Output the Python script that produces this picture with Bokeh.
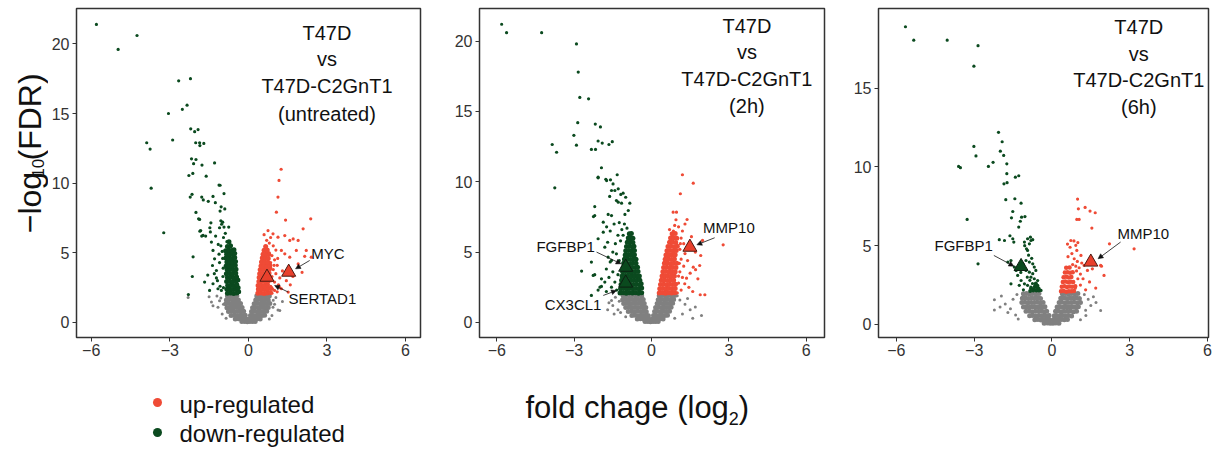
from bokeh.plotting import figure
from bokeh.layouts import row, column
from bokeh.models import Range1d, FixedTicker, Arrow, NormalHead
from bokeh.core.properties import value
from bokeh.embed import file_html
from bokeh.resources import INLINE

# ---------------- data ----------------
X_TICKS = [-6, -3, 0, 3, 6]
X_TICK_LABELS = ["\u22126", "\u22123", "0", "3", "6"]
Y_TICKS_A = [0, 5, 10, 15, 20]
Y_TICKS_B = [0, 5, 10, 15]

TITLES = [
    ["T47D", "vs", "T47D-C2GnT1", "(untreated)"],
    ["T47D", "vs", "T47D-C2GnT1", "(2h)"],
    ["T47D", "vs", "T47D-C2GnT1", "(6h)"],
]
LEGEND_LABELS = ["up-regulated", "down-regulated"]

# ---- panel 1 (untreated) ----
p1_down = [(-5.80, 21.4), (-4.25, 20.6), (-4.97, 19.6), (-2.66, 17.35), (-2.21, 17.5), (-2.34, 15.6),
           (-2.52, 15.3), (-3.05, 15.0), (-2.20, 13.9), (-1.92, 13.85), (-2.05, 13.7), (-2.89, 13.1),
           (-3.88, 12.9), (-3.75, 12.45), (-2.01, 12.9), (-1.86, 12.9), (-1.70, 12.85), (-1.85, 12.7),
           (-1.29, 11.45), (-1.77, 11.3), (-2.17, 11.75), (-2.00, 11.7), (-2.09, 11.4), (-2.12, 10.7),
           (-2.27, 10.55), (-1.61, 10.5), (-1.12, 9.86), (-1.08, 9.85), (-3.71, 9.64), (-2.15, 9.2),
           (-2.22, 9.0), (-1.78, 9.0), (-1.72, 8.8), (-1.53, 8.7), (-1.35, 9.05), (-0.93, 9.25),
           (-1.04, 8.3), (-0.90, 8.15), (-1.08, 8.0), (-1.26, 8.6), (-2.00, 7.9), (-1.86, 7.4),
           (-1.43, 7.15), (-1.05, 7.3), (-0.98, 7.2), (-1.02, 7.05), (-1.10, 6.8), (-0.93, 6.85),
           (-0.75, 6.85), (-3.23, 6.44), (-1.85, 6.55), (-1.78, 6.2), (-1.63, 6.2), (-1.45, 6.5),
           (-1.25, 6.2), (-2.11, 4.71), (-2.14, 3.3), (-2.29, 2.0), (-1.90, 7.44), (-1.82, 6.6),
           (-1.73, 6.25), (-1.47, 6.8), (-1.41, 5.77), (-1.35, 5.17), (-1.29, 4.57), (-1.37, 4.09),
           (-1.22, 3.73), (-1.67, 2.9), (-1.35, 2.78), (-1.22, 3.2), (-1.16, 2.42), (-1.03, 2.3),
           (-1.15, 5.6), (-1.12, 4.9), (-1.05, 5.5), (-1.18, 3.0), (-1.08, 2.6), (-1.10, 4.3),
           (-1.30, 3.5), (-1.55, 3.4), (-1.48, 2.3), (-0.95, 6.1), (-0.88, 6.4), (-0.82, 5.8),
           (-0.98, 4.6), (-0.96, 3.9), (-0.97, 3.3), (-0.95, 2.5), (-1.0, 5.1)]
p1_down_core = [(-0.80, 2.10), (-0.68, 2.12), (-0.56, 2.08), (-0.44, 2.11), (-0.37, 2.20),
                (-0.82, 2.38), (-0.70, 2.40), (-0.58, 2.36), (-0.46, 2.42), (-0.39, 2.50),
                (-0.79, 2.66), (-0.67, 2.68), (-0.55, 2.64), (-0.44, 2.70),
                (-0.83, 2.94), (-0.71, 2.96), (-0.59, 2.92), (-0.47, 2.98), (-0.40, 3.05),
                (-0.80, 3.22), (-0.68, 3.24), (-0.56, 3.20), (-0.45, 3.26),
                (-0.84, 3.50), (-0.72, 3.52), (-0.60, 3.48), (-0.48, 3.54),
                (-0.81, 3.78), (-0.69, 3.80), (-0.57, 3.76), (-0.47, 3.82),
                (-0.85, 4.06), (-0.73, 4.08), (-0.61, 4.04), (-0.50, 4.10),
                (-0.82, 4.34), (-0.70, 4.36), (-0.58, 4.32), (-0.49, 4.38),
                (-0.86, 4.62), (-0.74, 4.64), (-0.62, 4.60), (-0.52, 4.66),
                (-0.83, 4.90), (-0.71, 4.92), (-0.59, 4.88), (-0.52, 4.95),
                (-0.87, 5.15), (-0.75, 5.20), (-0.63, 5.16), (-0.55, 5.22),
                (-0.80, 5.45), (-0.68, 5.50), (-0.74, 5.80)]
p1_up = [(1.25, 11.0), (1.17, 10.2), (1.13, 9.0), (1.07, 7.92), (2.38, 7.44), (1.42, 7.35), (2.09, 6.72),
         (0.75, 6.6), (0.94, 6.36), (1.13, 6.12), (1.39, 6.24), (1.58, 5.89), (1.71, 6.0), (1.90, 5.89),
         (1.83, 5.17), (2.21, 5.17), (2.40, 4.69), (1.26, 5.17), (1.39, 4.93), (1.58, 4.69), (1.0, 2.3),
         (1.26, 2.42), (1.52, 2.18), (0.85, 6.1), (0.8, 5.7), (0.95, 5.5), (1.05, 5.2), (0.9, 4.8),
         (1.0, 4.5), (1.1, 4.1), (0.85, 4.3), (0.95, 3.8), (1.05, 3.5), (1.2, 3.2), (0.9, 3.3),
         (1.0, 2.9), (1.15, 2.7), (0.85, 2.6), (0.9, 2.1), (1.3, 3.7), (1.1, 2.2), (0.8, 5.0),
         (0.88, 3.0), (0.86, 3.9), (0.92, 2.4), (1.7, 3.3), (1.45, 3.0), (0.6, 6.3), (0.7, 5.9),
         (1.6, 2.7), (1.9, 4.2), (2.05, 3.6), (2.15, 4.75), (0.98, 4.1), (1.12, 4.6), (1.2, 2.5)]
p1_up_core = [(0.36, 2.10), (0.48, 2.12), (0.60, 2.08), (0.72, 2.11), (0.84, 2.15),
              (0.38, 2.38), (0.50, 2.40), (0.62, 2.36), (0.74, 2.42), (0.86, 2.45),
              (0.37, 2.66), (0.49, 2.68), (0.61, 2.64), (0.73, 2.70),
              (0.40, 2.94), (0.52, 2.96), (0.64, 2.92), (0.76, 2.98),
              (0.41, 3.22), (0.53, 3.24), (0.65, 3.20), (0.77, 3.26),
              (0.43, 3.50), (0.55, 3.52), (0.67, 3.48), (0.79, 3.54),
              (0.45, 3.78), (0.57, 3.80), (0.69, 3.76), (0.80, 3.82),
              (0.48, 4.06), (0.60, 4.08), (0.72, 4.04), (0.82, 4.10),
              (0.50, 4.34), (0.62, 4.36), (0.74, 4.32),
              (0.53, 4.62), (0.65, 4.64), (0.76, 4.60),
              (0.56, 4.90), (0.68, 4.92), (0.78, 4.88),
              (0.60, 5.18), (0.72, 5.20), (0.66, 5.45)]
p1_ns = [(-2.30, 1.8), (-1.41, 1.46), (-1.35, 1.2), (-1.16, 1.1), (-1.05, 1.75), (-1.2, 1.9), (-1.0, 0.6),
         (-0.95, 1.3), (-1.1, 1.55), (0.94, 1.1), (1.13, 0.9), (1.2, 0.86), (0.95, 1.6), (1.05, 1.8),
         (0.9, 0.5), (1.0, 1.3), (-0.85, 0.3), (0.8, 0.25), (-1.5, 1.85), (1.3, 1.5)]
p1_ns_core = [(-0.80, 1.90), (-0.68, 1.92), (-0.56, 1.88), (-0.44, 1.91),
              (0.32, 1.90), (0.44, 1.92), (0.56, 1.88), (0.68, 1.91), (0.80, 1.90),
              (-0.84, 1.62), (-0.72, 1.64), (-0.60, 1.60), (-0.48, 1.63), (-0.38, 1.62),
              (0.28, 1.62), (0.40, 1.64), (0.52, 1.60), (0.64, 1.63), (0.76, 1.62),
              (-0.86, 1.34), (-0.74, 1.36), (-0.62, 1.32), (-0.50, 1.35), (-0.38, 1.34), (-0.30, 1.36),
              (0.22, 1.34), (0.34, 1.36), (0.46, 1.32), (0.58, 1.35), (0.70, 1.34), (0.82, 1.36),
              (-0.82, 1.06), (-0.70, 1.08), (-0.58, 1.04), (-0.46, 1.07), (-0.34, 1.06), (-0.24, 1.08),
              (0.16, 1.06), (0.28, 1.08), (0.40, 1.04), (0.52, 1.07), (0.64, 1.06), (0.76, 1.08),
              (-0.76, 0.78), (-0.64, 0.80), (-0.52, 0.76), (-0.40, 0.79), (-0.28, 0.78), (-0.18, 0.80),
              (0.12, 0.78), (0.22, 0.80), (0.34, 0.76), (0.46, 0.79), (0.58, 0.78), (0.70, 0.80),
              (-0.66, 0.50), (-0.54, 0.52), (-0.42, 0.48), (-0.30, 0.51), (-0.20, 0.50), (-0.12, 0.52),
              (0.08, 0.50), (0.16, 0.52), (0.28, 0.48), (0.40, 0.51), (0.52, 0.50), (0.62, 0.52),
              (-0.50, 0.25), (-0.38, 0.27), (-0.27, 0.24), (-0.17, 0.26), (-0.08, 0.25),
              (0.04, 0.25), (0.12, 0.27), (0.22, 0.24), (0.33, 0.26), (0.45, 0.25),
              (-0.25, 0.06), (-0.14, 0.07), (-0.04, 0.05), (0.06, 0.06), (0.16, 0.07), (0.26, 0.06)]
p1_genes = ["MYC", "SERTAD1"]
p1_gene_x = [1.54, 0.71]
p1_gene_y = [3.61, 3.25]
p1_gene_dir = ["up", "up"]

# ---- panel 2 (2h) ----
p2_down = [(-5.81, 21.2), (-5.62, 20.6), (-4.26, 20.6), (-2.91, 19.8), (-2.84, 17.8), (-2.78, 16.0),
           (-2.44, 15.9), (-2.86, 14.2), (-2.18, 14.1), (-1.98, 13.9), (-3.01, 13.3), (-3.85, 12.65),
           (-2.91, 12.6), (-3.68, 12.1), (-2.33, 12.3), (-2.17, 12.3), (-2.07, 12.9), (-1.91, 12.75),
           (-1.52, 12.85), (-1.65, 12.65), (-1.94, 11.0), (-3.75, 9.57), (-2.07, 10.28), (-1.77, 10.18),
           (-1.59, 10.14), (-1.33, 10.5), (-1.49, 9.85), (-1.55, 9.38), (-1.62, 8.96), (-1.10, 9.19),
           (-1.00, 8.9), (-1.19, 9.1), (-1.36, 8.67), (-1.29, 8.55), (-1.16, 8.48), (-0.84, 8.48),
           (-2.20, 8.24), (-2.20, 7.6), (-2.25, 7.53), (-1.68, 7.68), (-1.55, 7.6), (-1.03, 7.68),
           (-0.90, 7.96), (-1.87, 7.13), (-1.87, 6.42), (-1.74, 6.8), (-2.33, 4.29), (-2.71, 3.65),
           (-2.20, 3.4), (-1.94, 2.56), (-2.07, 2.3), (-2.33, 1.92), (-2.07, 10.33), (-1.74, 10.09),
           (-1.42, 9.38), (-1.29, 9.5), (-2.07, 5.95), (-1.81, 5.35), (-1.68, 4.64), (-1.55, 4.41),
           (-1.36, 4.88), (-2.26, 3.34), (-1.94, 3.1), (-1.81, 2.87), (-2.0, 2.51), (-1.55, 2.51),
           (-1.42, 2.87), (-1.3, 6.2), (-1.2, 5.8), (-1.4, 5.6), (-1.15, 6.6), (-1.25, 7.1),
           (-1.45, 7.0), (-1.6, 6.5), (-1.7, 5.7), (-1.5, 5.0), (-1.6, 4.3), (-1.75, 3.8),
           (-1.5, 3.6), (-1.65, 3.2), (-1.35, 2.3), (-1.75, 2.2), (-1.25, 4.4), (-1.3, 3.4),
           (-1.2, 2.7), (-1.05, 7.0), (-0.95, 6.7), (-1.1, 6.2)]
p2_down_core = [(-1.22, 2.10), (-1.10, 2.12), (-0.98, 2.08), (-0.86, 2.11), (-0.74, 2.10), (-0.62, 2.12), (-0.50, 2.08), (-0.38, 2.11),
                (-1.20, 2.40), (-1.08, 2.42), (-0.96, 2.38), (-0.84, 2.41), (-0.72, 2.40), (-0.60, 2.42), (-0.48, 2.38), (-0.38, 2.45),
                (-1.18, 2.70), (-1.06, 2.72), (-0.94, 2.68), (-0.82, 2.71), (-0.70, 2.70), (-0.58, 2.72), (-0.46, 2.68), (-0.40, 2.75),
                (-1.16, 3.00), (-1.04, 3.02), (-0.92, 2.98), (-0.80, 3.01), (-0.68, 3.00), (-0.56, 3.02), (-0.45, 3.00),
                (-1.14, 3.30), (-1.02, 3.32), (-0.90, 3.28), (-0.78, 3.31), (-0.66, 3.30), (-0.54, 3.32), (-0.47, 3.30),
                (-1.12, 3.60), (-1.00, 3.62), (-0.88, 3.58), (-0.76, 3.61), (-0.64, 3.60), (-0.52, 3.62),
                (-1.10, 3.90), (-0.98, 3.92), (-0.86, 3.88), (-0.74, 3.91), (-0.62, 3.90), (-0.54, 3.92),
                (-1.08, 4.20), (-0.96, 4.22), (-0.84, 4.18), (-0.72, 4.21), (-0.60, 4.20),
                (-1.05, 4.50), (-0.93, 4.52), (-0.81, 4.48), (-0.69, 4.51), (-0.60, 4.50),
                (-1.02, 4.80), (-0.90, 4.82), (-0.78, 4.78), (-0.66, 4.81),
                (-1.00, 5.10), (-0.88, 5.12), (-0.76, 5.08), (-0.66, 5.11),
                (-0.97, 5.40), (-0.85, 5.42), (-0.74, 5.38), (-0.68, 5.41),
                (-0.94, 5.70), (-0.82, 5.72), (-0.72, 5.68),
                (-0.90, 6.00), (-0.80, 6.02), (-0.72, 5.98),
                (-0.86, 6.30), (-0.78, 6.32)]
p2_up = [(1.2, 10.5), (1.62, 9.9), (1.12, 9.15), (0.84, 7.84), (0.97, 7.84), (1.38, 7.32), (0.95, 7.3),
         (1.98, 5.83), (2.78, 5.52), (1.91, 4.76), (1.87, 4.05), (1.62, 3.93), (1.71, 3.75), (1.89, 1.97),
         (2.07, 1.97), (1.36, 3.15), (1.29, 2.75), (1.05, 6.8), (1.2, 6.5), (1.15, 6.0), (1.25, 5.6),
         (1.1, 5.2), (1.3, 4.9), (1.15, 4.5), (1.25, 4.0), (1.1, 3.6), (1.2, 3.2), (1.05, 2.8),
         (1.15, 2.3), (1.0, 2.1), (1.4, 4.4), (1.5, 3.5), (1.45, 2.5), (0.7, 6.6), (0.9, 6.9),
         (1.3, 7.0), (1.55, 6.1), (1.7, 5.0), (1.6, 2.2), (1.8, 3.1), (1.08, 4.2), (1.05, 3.3),
         (1.12, 5.6), (0.85, 6.5)]
p2_up_core = [(0.30, 2.10), (0.42, 2.12), (0.54, 2.08), (0.66, 2.11), (0.78, 2.10), (0.90, 2.12),
              (0.32, 2.40), (0.44, 2.42), (0.56, 2.38), (0.68, 2.41), (0.80, 2.40), (0.92, 2.42),
              (0.35, 2.70), (0.47, 2.72), (0.59, 2.68), (0.71, 2.71), (0.83, 2.70), (0.93, 2.72),
              (0.38, 3.00), (0.50, 3.02), (0.62, 2.98), (0.74, 3.01), (0.86, 3.00),
              (0.41, 3.30), (0.53, 3.32), (0.65, 3.28), (0.77, 3.31), (0.89, 3.30),
              (0.44, 3.60), (0.56, 3.62), (0.68, 3.58), (0.80, 3.61), (0.92, 3.60),
              (0.47, 3.90), (0.59, 3.92), (0.71, 3.88), (0.83, 3.91), (0.95, 3.90),
              (0.50, 4.20), (0.62, 4.22), (0.74, 4.18), (0.86, 4.21), (0.98, 4.20),
              (0.53, 4.50), (0.65, 4.52), (0.77, 4.48), (0.89, 4.51),
              (0.56, 4.80), (0.68, 4.82), (0.80, 4.78), (0.92, 4.81),
              (0.60, 5.10), (0.72, 5.12), (0.84, 5.08), (0.96, 5.11),
              (0.64, 5.40), (0.76, 5.42), (0.88, 5.38), (1.00, 5.41),
              (0.70, 5.70), (0.82, 5.72), (0.94, 5.68),
              (0.74, 6.00), (0.86, 6.02), (0.98, 5.98),
              (0.80, 6.30), (0.92, 6.32)]
p2_ns = [(-1.55, 1.56), (-1.5, 1.2), (-1.4, 1.8), (-1.3, 0.9), (-1.45, 0.6), (-1.65, 1.4), (-1.25, 1.5),
         (-1.2, 0.7), (1.94, 0.5), (1.5, 0.9), (1.3, 1.3), (1.1, 1.6), (1.2, 0.6), (1.0, 1.9), (1.4, 1.7),
         (-1.0, 0.4), (0.9, 0.3), (1.7, 1.1), (1.6, 0.3), (-1.7, 0.9)]
p2_ns_core = [(-1.10, 1.90), (-0.98, 1.92), (-0.86, 1.88), (-0.74, 1.91), (-0.62, 1.90), (-0.50, 1.92), (-0.38, 1.88),
              (0.30, 1.90), (0.42, 1.92), (0.54, 1.88), (0.66, 1.91), (0.78, 1.90), (0.90, 1.92),
              (-1.12, 1.62), (-1.00, 1.64), (-0.88, 1.60), (-0.76, 1.63), (-0.64, 1.62), (-0.52, 1.64), (-0.40, 1.60), (-0.32, 1.63),
              (0.26, 1.62), (0.38, 1.64), (0.50, 1.60), (0.62, 1.63), (0.74, 1.62), (0.86, 1.64),
              (-1.08, 1.34), (-0.96, 1.36), (-0.84, 1.32), (-0.72, 1.35), (-0.60, 1.34), (-0.48, 1.36), (-0.36, 1.32), (-0.28, 1.35),
              (0.22, 1.34), (0.34, 1.36), (0.46, 1.32), (0.58, 1.35), (0.70, 1.34), (0.82, 1.36),
              (-1.00, 1.06), (-0.88, 1.08), (-0.76, 1.04), (-0.64, 1.07), (-0.52, 1.06), (-0.40, 1.08), (-0.30, 1.04), (-0.22, 1.07),
              (0.16, 1.06), (0.28, 1.08), (0.40, 1.04), (0.52, 1.07), (0.64, 1.06), (0.76, 1.08),
              (-0.90, 0.78), (-0.78, 0.80), (-0.66, 0.76), (-0.54, 0.79), (-0.42, 0.78), (-0.30, 0.80), (-0.20, 0.76),
              (0.12, 0.78), (0.22, 0.80), (0.34, 0.76), (0.46, 0.79), (0.58, 0.78), (0.70, 0.80),
              (-0.76, 0.50), (-0.64, 0.52), (-0.52, 0.48), (-0.40, 0.51), (-0.30, 0.50), (-0.20, 0.52), (-0.12, 0.48),
              (0.08, 0.50), (0.16, 0.52), (0.28, 0.48), (0.40, 0.51), (0.52, 0.50), (0.62, 0.52),
              (-0.55, 0.25), (-0.43, 0.27), (-0.31, 0.24), (-0.20, 0.26), (-0.10, 0.25),
              (0.04, 0.25), (0.12, 0.27), (0.22, 0.24), (0.33, 0.26), (0.45, 0.25),
              (-0.25, 0.06), (-0.14, 0.07), (-0.04, 0.05), (0.06, 0.06), (0.16, 0.07), (0.26, 0.06)]
p2_genes = ["MMP10", "FGFBP1", "CX3CL1"]
p2_gene_x = [1.49, -1.0, -1.0]
p2_gene_y = [5.35, 3.93, 2.8]
p2_gene_dir = ["up", "down", "down"]

# ---- panel 3 (6h) ----
p3_down = [(-5.65, 18.9), (-5.33, 18.05), (-4.04, 18.05), (-2.85, 17.7), (-3.01, 16.4), (-2.06, 12.2),
           (-1.92, 11.6), (-3.01, 11.3), (-1.99, 11.0), (-2.93, 10.7), (-1.86, 10.73), (-3.6, 10.03),
           (-3.53, 9.95), (-2.45, 10.03), (-2.27, 10.29), (-1.74, 10.2), (-1.74, 9.57), (-1.41, 9.35),
           (-1.28, 9.44), (-1.85, 8.93), (-1.73, 9.0), (-1.78, 7.92), (-1.43, 7.98), (-1.19, 7.7),
           (-1.51, 7.17), (-1.56, 6.77), (-1.17, 6.81), (-1.04, 6.85), (-1.22, 6.55), (-1.28, 6.18),
           (-3.27, 6.67), (-1.62, 5.63), (-2.03, 5.38), (-1.83, 5.33), (-1.51, 5.44), (-1.47, 5.23),
           (-0.94, 5.44), (-0.83, 5.54), (-0.74, 5.38), (-2.85, 3.85), (-1.06, 5.23), (-0.81, 5.33),
           (-0.87, 5.12), (-0.94, 4.7), (-1.7, 3.96), (-1.58, 4.06), (-1.0, 4.06), (-0.87, 3.96),
           (-0.74, 3.85), (-0.68, 3.64), (-1.0, 3.43), (-0.87, 3.32), (-0.74, 3.22), (-0.62, 3.43),
           (-0.81, 3.0), (-0.68, 2.9), (-0.55, 2.79), (-1.32, 3.11), (-1.19, 2.79), (-1.26, 2.48),
           (-1.06, 2.58), (-0.94, 2.48), (-0.81, 2.37), (-0.68, 2.27), (-0.55, 2.48), (-0.49, 2.27),
           (-0.42, 2.16), (-1.45, 3.64), (-1.38, 3.43), (-1.58, 2.58), (-0.9, 4.4), (-0.78, 4.2),
           (-1.1, 3.8), (-0.95, 3.0), (-1.1, 2.2), (-0.65, 2.5), (-0.75, 2.6), (-0.6, 2.2),
           (-0.85, 2.8), (-1.2, 3.3), (-1.05, 5.0), (-0.98, 4.8)]
p3_down_core = [(-0.72, 2.15), (-0.60, 2.15), (-0.50, 2.15), (-0.66, 2.40), (-0.55, 2.35), (-0.80, 2.30),
                (-0.62, 2.60), (-0.84, 2.12)]
p3_up = [(0.99, 7.96), (1.02, 7.34), (1.28, 7.43), (1.47, 7.2), (1.67, 7.09), (0.96, 6.67), (1.05, 6.67),
         (1.54, 6.12), (2.22, 5.12), (3.17, 4.8), (1.91, 3.7), (2.01, 3.11), (1.69, 2.31), (0.73, 5.33),
         (0.92, 5.02), (0.96, 4.7), (1.0, 5.2), (0.77, 4.5), (0.86, 4.17), (0.98, 4.0), (1.12, 4.38),
         (1.15, 3.9), (1.24, 3.75), (1.05, 3.6), (0.95, 3.4), (1.37, 3.43), (1.56, 3.53), (1.88, 3.75),
         (0.7, 4.9), (0.62, 4.3), (0.8, 3.8), (1.2, 2.9), (1.1, 2.5), (1.3, 2.2), (0.9, 2.3),
         (1.45, 2.7), (0.6, 5.1), (0.85, 5.3), (1.0, 2.9), (0.92, 3.7), (1.1, 3.2)]
p3_up_core = [(0.35, 2.10), (0.45, 2.12), (0.55, 2.08), (0.65, 2.11), (0.75, 2.10), (0.85, 2.12),
              (0.38, 2.40), (0.48, 2.42), (0.58, 2.38), (0.68, 2.41), (0.78, 2.40), (0.90, 2.42),
              (0.42, 2.70), (0.52, 2.72), (0.62, 2.68), (0.72, 2.71), (0.82, 2.70),
              (0.45, 3.00), (0.55, 3.02), (0.65, 2.98), (0.75, 3.01),
              (0.50, 3.30), (0.60, 3.32), (0.70, 3.28), (0.80, 3.31),
              (0.55, 3.60), (0.68, 3.62)]
p3_ns = [(-2.22, 1.57), (-2.22, 0.91), (-1.95, 1.8), (-1.8, 1.3), (-1.6, 1.0), (-1.5, 1.6), (-1.4, 0.6),
         (-1.35, 1.9), (-2.0, 1.1), (-1.7, 0.75), (1.31, 0.57), (1.88, 0.89), (1.4, 1.6), (1.5, 1.2),
         (1.25, 1.9), (1.6, 1.75), (1.3, 0.9), (1.7, 1.4), (-1.3, 0.35), (1.1, 0.3)]
p3_ns_core = [(-1.10, 1.95), (-0.98, 1.97), (-0.86, 1.93), (-0.74, 1.96), (-0.62, 1.95), (-0.50, 1.97),
              (0.40, 1.95), (0.52, 1.97), (0.64, 1.93), (0.76, 1.96), (0.88, 1.95), (1.00, 1.97),
              (-1.14, 1.67), (-1.02, 1.69), (-0.90, 1.65), (-0.78, 1.68), (-0.66, 1.67), (-0.54, 1.69), (-0.44, 1.65),
              (0.34, 1.67), (0.46, 1.69), (0.58, 1.65), (0.70, 1.68), (0.82, 1.67), (0.94, 1.69), (1.06, 1.65),
              (-1.16, 1.39), (-1.04, 1.41), (-0.92, 1.37), (-0.80, 1.40), (-0.68, 1.39), (-0.56, 1.41), (-0.44, 1.37), (-0.34, 1.40),
              (0.28, 1.39), (0.38, 1.41), (0.50, 1.37), (0.62, 1.40), (0.74, 1.39), (0.86, 1.41), (0.98, 1.37), (1.10, 1.40),
              (-1.10, 1.11), (-0.98, 1.13), (-0.86, 1.09), (-0.74, 1.12), (-0.62, 1.11), (-0.50, 1.13), (-0.38, 1.09), (-0.27, 1.12),
              (0.20, 1.11), (0.30, 1.13), (0.42, 1.09), (0.54, 1.12), (0.66, 1.11), (0.78, 1.13), (0.90, 1.09), (1.02, 1.12),
              (-1.00, 0.83), (-0.88, 0.85), (-0.76, 0.81), (-0.64, 0.84), (-0.52, 0.83), (-0.40, 0.85), (-0.29, 0.81), (-0.20, 0.84),
              (0.14, 0.83), (0.24, 0.85), (0.35, 0.81), (0.47, 0.84), (0.59, 0.83), (0.71, 0.85), (0.83, 0.81), (0.95, 0.84),
              (-0.86, 0.55), (-0.74, 0.57), (-0.62, 0.53), (-0.50, 0.56), (-0.39, 0.55), (-0.28, 0.57), (-0.18, 0.53), (-0.11, 0.56),
              (0.09, 0.55), (0.17, 0.57), (0.28, 0.53), (0.40, 0.56), (0.52, 0.55), (0.64, 0.57), (0.76, 0.53),
              (-0.66, 0.30), (-0.54, 0.32), (-0.42, 0.28), (-0.30, 0.31), (-0.20, 0.30), (-0.11, 0.32),
              (0.05, 0.30), (0.13, 0.32), (0.24, 0.28), (0.36, 0.31), (0.48, 0.30), (0.60, 0.32),
              (-0.30, 0.08), (-0.18, 0.09), (-0.07, 0.07), (0.04, 0.08), (0.15, 0.09), (0.27, 0.08)]
p3_genes = ["FGFBP1", "MMP10"]
p3_gene_x = [-1.19, 1.5]
p3_gene_y = [3.68, 3.96]
p3_gene_dir = ["down", "up"]

# ---------------- styling / layout ----------------
FONT = "Liberation Sans"
RED = "#EF4B36"
GREEN = "#0B4A1F"
GRAY = "#808080"
DIR_FILL = {"up": "#E8402C", "down": "#0A4A1E"}
DIR_LINE = {"up": "#4A1A12", "down": "#0D1F12"}
TOP_H = 363      # height of the panel row
BOT_H = 85       # height of the legend / x-title strip


def xs(pts):
    return [a for a, b in pts]


def ys(pts):
    return [b for a, b in pts]


def make_panel(fw, bl, br, xr, yr, yticks, layers, genes, gx, gy, gdir,
               title, tx, tys, annos):
    p = figure(frame_width=fw, frame_height=329, min_border_left=bl, min_border_right=br,
               min_border_top=8, min_border_bottom=26,
               x_range=Range1d(*xr), y_range=Range1d(*yr),
               output_backend="svg", toolbar_location=None,
               background_fill_color="white", border_fill_color="white")
    p.grid.visible = False
    p.outline_line_color = "#333333"
    p.outline_line_width = 1.5
    for ax in (p.xaxis[0], p.yaxis[0]):
        ax.axis_line_color = None
        ax.major_tick_in = 0
        ax.major_tick_out = 4
        ax.major_tick_line_color = "#333333"
        ax.major_tick_line_width = 1
        ax.minor_tick_line_color = None
        ax.major_label_text_font = FONT
        ax.major_label_text_font_size = "16px"
        ax.major_label_text_color = "#333333"
    p.xaxis.ticker = FixedTicker(ticks=X_TICKS)
    p.xaxis.major_label_overrides = {t: lab for t, lab in zip(X_TICKS, X_TICK_LABELS)}
    p.xaxis.major_label_standoff = 2
    p.yaxis.ticker = FixedTicker(ticks=yticks)
    p.yaxis.major_label_standoff = 3

    for pts, color, size in layers:
        p.scatter(x=xs(pts), y=ys(pts), size=size, marker="circle",
                  fill_color=color, line_color=None)

    p.text(x=[tx] * len(title), y=tys, text=title, text_font=value(FONT),
           text_font_size=value("20px"), text_align="center", text_baseline="middle",
           text_color="#111111")

    for (name, lx, ly, align, x0, y0, x1, y1) in annos:
        p.add_layout(Arrow(end=NormalHead(size=5, fill_color="#111111", line_color="#111111", line_width=0.5),
                           x_start=x0, y_start=y0, x_end=x1, y_end=y1,
                           line_color="#111111", line_width=0.8))
        p.text(x=[lx], y=[ly], text=[name], text_font=value(FONT), text_font_size=value("15px"),
               text_align=align, text_baseline="middle", text_color="#111111")

    p.scatter(x=gx, y=gy, marker="triangle", size=14,
              fill_color=[DIR_FILL[d] for d in gdir], line_color=[DIR_LINE[d] for d in gdir],
              line_width=1)
    return p


f1 = make_panel(344, 27, 11, (-6.56, 6.57), (-1.08, 22.54), Y_TICKS_A,
                [(p1_ns_core, GRAY, 5), (p1_ns, GRAY, 3), (p1_down_core, GREEN, 5), (p1_down, GREEN, 3.2),
                 (p1_up_core, RED, 5), (p1_up, RED, 3.2)],
                p1_genes, p1_gene_x, p1_gene_y, p1_gene_dir,
                TITLES[0], 3.0, [20.8, 18.9, 16.95, 15.0],
                [("MYC", 2.4, 4.95, "left", 2.34, 4.45, 1.8, 3.85),
                 ("SERTAD1", 1.53, 1.72, "left", 1.52, 2.18, 1.0, 2.66)])

f2 = make_panel(345, 48, 11, (-6.67, 6.71), (-1.07, 22.32), Y_TICKS_A,
                [(p2_ns_core, GRAY, 5), (p2_ns, GRAY, 3), (p2_down_core, GREEN, 5), (p2_down, GREEN, 3.2),
                 (p2_up_core, RED, 5), (p2_up, RED, 3.2)],
                p2_genes, p2_gene_x, p2_gene_y, p2_gene_dir,
                TITLES[1], 3.7, [21.1, 19.2, 17.3, 15.4],
                [("MMP10", 2.0, 6.78, "left", 2.45, 6.02, 1.76, 5.52),
                 ("FGFBP1", -2.2, 5.4, "right", -2.13, 5.0, -1.18, 4.17),
                 ("CX3CL1", -1.94, 1.28, "right", -1.87, 1.92, -1.36, 2.27)])

f3 = make_panel(330, 43, 6, (-6.69, 6.04), (-0.83, 20.06), Y_TICKS_B,
                [(p3_ns_core, GRAY, 5), (p3_ns, GRAY, 3), (p3_down_core, GREEN, 4), (p3_down, GREEN, 3.2),
                 (p3_up_core, RED, 4.5), (p3_up, RED, 3.2)],
                p3_genes, p3_gene_x, p3_gene_y, p3_gene_dir,
                TITLES[2], 3.35, [18.86, 17.2, 15.5, 13.8],
                [("FGFBP1", -2.28, 5.02, "right", -2.24, 4.38, -1.47, 3.7),
                 ("MMP10", 2.53, 5.76, "left", 2.65, 5.23, 1.78, 4.17)])

# y-axis title (rotated, with subscript)
ylab = figure(width=48, height=TOP_H, x_range=Range1d(0, 48), y_range=Range1d(0, TOP_H),
              min_border=0, output_backend="svg", toolbar_location=None,
              x_axis_type=None, y_axis_type=None, outline_line_color=None)
ylab.grid.visible = False
ylab.text(x=[29, 37.5, 29], y=[115, 176.4, 195.3], text=["\u2212log", "10", "(FDR)"],
          angle=1.5707963, text_font=value(FONT),
          text_font_size=["32px", "17px", "32px"], text_align="left",
          text_baseline="middle", text_color="#111111")

# bottom strip: legend + x-axis title
bottom = figure(width=1214, height=BOT_H, x_range=Range1d(0, 1214), y_range=Range1d(0, BOT_H),
                min_border=0, output_backend="svg", toolbar_location=None,
                x_axis_type=None, y_axis_type=None, outline_line_color=None)
bottom.grid.visible = False
bottom.scatter(x=[157, 157], y=[46, 16], marker="circle", size=9,
               fill_color=[RED, GREEN], line_color=None)
bottom.text(x=[179, 179], y=[44, 15], text=LEGEND_LABELS, text_font=value(FONT),
            text_font_size=value("24px"), text_align="left", text_baseline="middle",
            text_color="#111111")
bottom.text(x=[525, 728.3, 738.3], y=[41, 30, 41], text=["fold chage (log", "2", ")"],
            text_font=value(FONT), text_font_size=["31px", "18px", "31px"],
            text_align="left", text_baseline="middle", text_color="#111111")

layout = column(row(ylab, f1, f2, f3), bottom)

open("out.html", "w").write(file_html(layout, INLINE))
